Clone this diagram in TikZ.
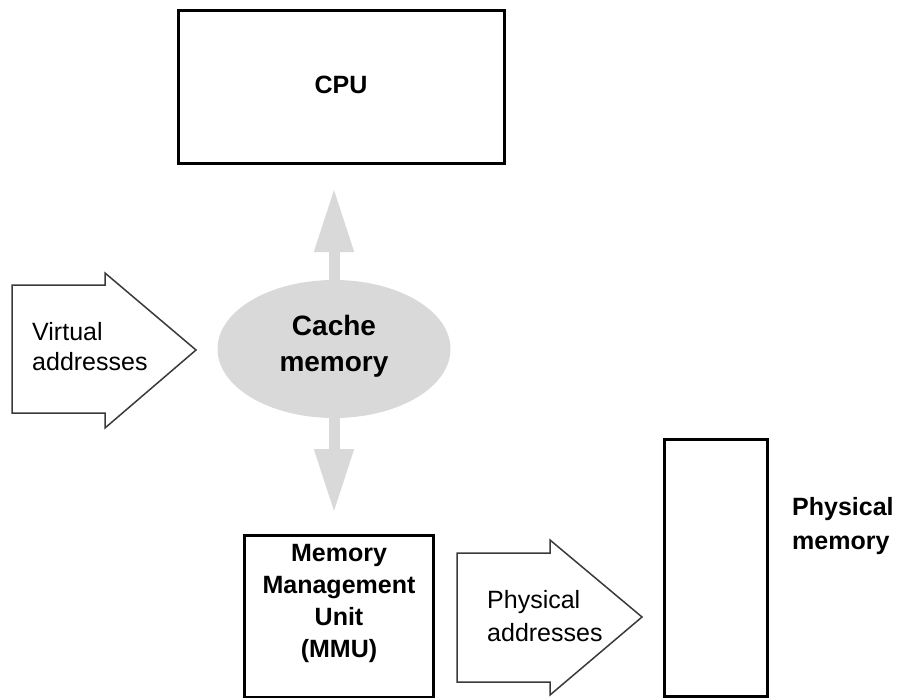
\documentclass[tikz,border=0pt]{standalone}
\usepackage{fontspec}
\setmainfont{Liberation Sans}
\usetikzlibrary{arrows.meta,shapes.geometric}
\definecolor{lightfill}{HTML}{D9D9D9}
\definecolor{outline}{HTML}{3A3A3A}
\begin{document}
\begin{tikzpicture}[x=1pt,y=-1pt,
  box/.style={draw=black, line width=3pt, inner sep=0pt, fill=white},
  blockarrow/.style={draw=outline, line width=1.5pt, fill=white, line join=miter},
  grayarrow/.style={draw=lightfill, line width=11pt, -{Triangle[width=37pt,length=64pt]}},
  plainlbl/.style={font=\fontsize{25}{32}\selectfont, inner sep=0pt},
  boldlbl/.style={font=\bfseries\fontsize{25}{32}\selectfont, inner sep=0pt, align=center}]
\useasboundingbox (0,0) rectangle (899,698);
% CPU
\node[box, minimum width=326pt, minimum height=152pt] (cpu) at (341,87) {};
\node[boldlbl] (cputxt) at (341,85) {CPU};
% cache
\node[ellipse, fill=lightfill, minimum width=233pt, minimum height=138pt, inner sep=0pt] (cache) at (334,349) {};
\node[font=\bfseries\fontsize{28}{36}\selectfont, align=center, inner sep=0pt] (cachetxt) at (334,346) {Cache\\memory};
\coordinate (uptip) at (334,188);
\coordinate (downtip) at (334,513);
\draw[grayarrow] (cache.north) -- (uptip);
\draw[grayarrow] (cache.south) -- (downtip);
% virtual addresses arrow
\draw[blockarrow] (12,285) -- (105,285) -- (105,273) -- (196,350) -- (105,428) -- (105,413) -- (12,413) -- cycle;
\node[plainlbl, anchor=west, align=left, font=\fontsize{25}{30}\selectfont] (virt) at (32,347) {Virtual\\addresses};
% MMU
\node[box, minimum width=189pt, minimum height=162pt] (mmu) at (339,616) {};
\node[boldlbl] (mmutxt) at (339,603) {Memory\\Management\\Unit\\(MMU)};
% physical addresses arrow
\draw[blockarrow] (457,553) -- (550,553) -- (550,540) -- (642,617) -- (550,695) -- (550,682) -- (457,682) -- cycle;
\node[plainlbl, anchor=west, align=left, font=\fontsize{25}{33}\selectfont] (phys) at (487,616) {Physical\\addresses};
% physical memory
\node[box, minimum width=103pt, minimum height=257pt] (pmem) at (716,568) {};
\node[boldlbl, anchor=west, align=left, font=\bfseries\fontsize{25}{34}\selectfont] (pmemtxt) at (792,526) {Physical\\memory};
\end{tikzpicture}
\end{document}
